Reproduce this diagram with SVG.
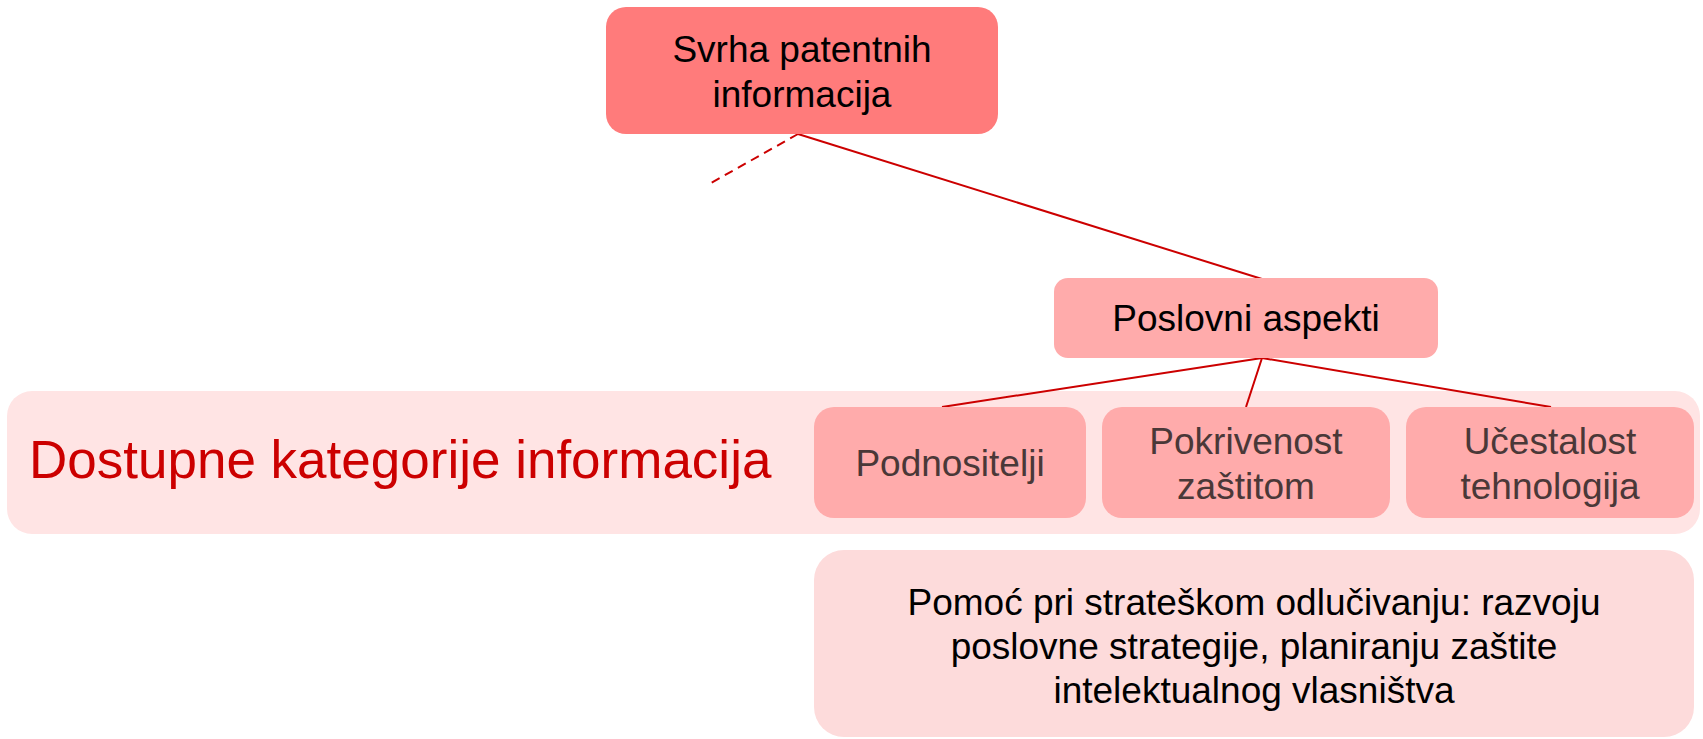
<svg xmlns="http://www.w3.org/2000/svg" width="1703" height="739" viewBox="0 0 1703 739">
<style>
text{font-family:"Liberation Sans",Arial,sans-serif;text-anchor:middle}
.lvl1{fill:#FF7B7B}
.lvl2{fill:#FFABAB}
.band{fill:#FFE4E4}
.note{fill:#FDDBDB}
.t{font-size:37px;fill:#000}
.ts{font-size:37px;fill:#4A3838}
.big{font-size:53px;fill:#CC0000;text-anchor:start}
.c{stroke:#CC0000;stroke-width:2;fill:none}
</style>
<g id="band">
<rect class="band" x="7" y="391" width="1693" height="143" rx="25"/>
<text class="big" x="29" y="478">Dostupne kategorije informacija</text>
</g>
<g id="connectors">
<line class="c" x1="798" y1="134" x2="711" y2="183" stroke-dasharray="9,6"/>
<line class="c" x1="798" y1="134" x2="1262" y2="279"/>
<line class="c" x1="1262" y1="358" x2="942" y2="407"/>
<line class="c" x1="1262" y1="358" x2="1246" y2="407"/>
<line class="c" x1="1262" y1="358" x2="1551" y2="407"/>
</g>
<g id="n-svrha">
<rect class="lvl1" x="606" y="7" width="392" height="127" rx="20"/>
<text class="t" x="802" y="62">Svrha patentnih</text>
<text class="t" x="802" y="107">informacija</text>
</g>
<g id="n-poslovni">
<rect class="lvl2" x="1054" y="278" width="384" height="80" rx="14"/>
<text class="t" x="1246" y="331">Poslovni aspekti</text>
</g>
<g id="n-podnositelji">
<rect class="lvl2" x="814" y="407" width="272" height="111" rx="20"/>
<text class="ts" x="950" y="476">Podnositelji</text>
</g>
<g id="n-pokrivenost">
<rect class="lvl2" x="1102" y="407" width="288" height="111" rx="20"/>
<text class="ts" x="1246" y="454">Pokrivenost</text>
<text class="ts" x="1246" y="499">zaštitom</text>
</g>
<g id="n-ucestalost">
<rect class="lvl2" x="1406" y="407" width="288" height="111" rx="20"/>
<text class="ts" x="1550" y="454">Učestalost</text>
<text class="ts" x="1550" y="499">tehnologija</text>
</g>
<g id="n-pomoc">
<rect class="note" x="814" y="550" width="880" height="187" rx="30"/>
<text class="t" x="1254" y="615">Pomoć pri strateškom odlučivanju: razvoju</text>
<text class="t" x="1254" y="659">poslovne strategije, planiranju zaštite</text>
<text class="t" x="1254" y="703">intelektualnog vlasništva</text>
</g>
</svg>
